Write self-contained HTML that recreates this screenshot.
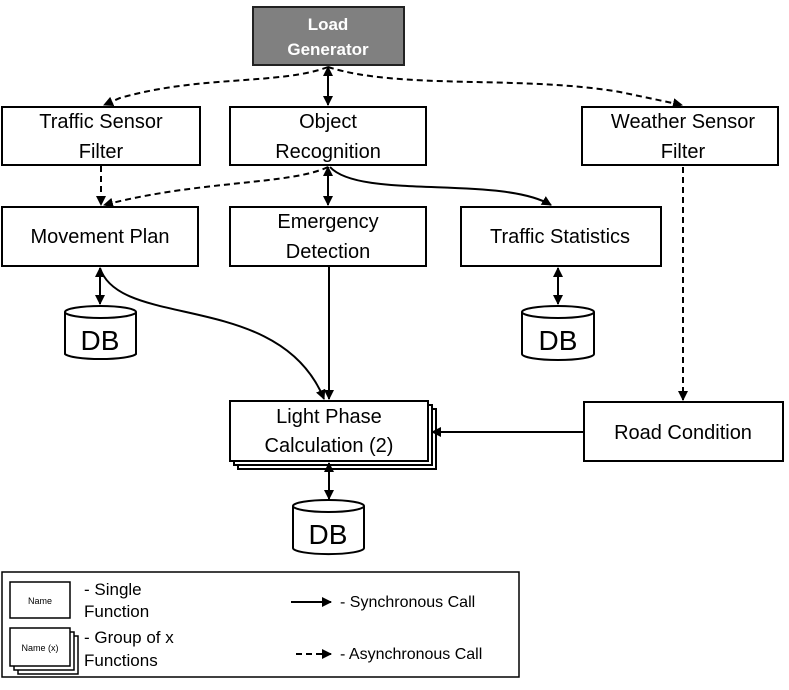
<!DOCTYPE html>
<html><head><meta charset="utf-8"><style>
html,body{margin:0;padding:0;background:#fff;}
svg{display:block;}
text{font-family:"Liberation Sans",sans-serif;fill:#000;}
</style></head><body>
<svg width="789" height="690" viewBox="0 0 789 690" xmlns="http://www.w3.org/2000/svg">
<defs>
<marker id="a" viewBox="0 0 10 10" refX="9" refY="5" markerWidth="5" markerHeight="5" orient="auto-start-reverse"><path d="M0,0L10,5L0,10z" fill="#000"/></marker>
</defs>
<g fill="#fff" stroke="#000" stroke-width="2">
<rect x="253" y="7" width="151" height="58" fill="#808080" stroke="#222"/>
<rect x="2" y="107" width="198" height="58"/>
<rect x="230" y="107" width="196" height="58"/>
<rect x="582" y="107" width="196" height="58"/>
<rect x="2" y="207" width="196" height="59"/>
<rect x="230" y="207" width="196" height="59"/>
<rect x="461" y="207" width="200" height="59"/>
<rect x="238" y="409" width="198" height="60"/>
<rect x="234" y="405" width="198" height="60"/>
<rect x="230" y="401" width="198" height="60"/>
<rect x="584" y="402" width="199" height="59"/>
</g>
<g fill="#fff" stroke="#000" stroke-width="2">
<path d="M65,312 v42 a36,6 0 0 0 71,0 v-42"/><ellipse cx="100.5" cy="312" rx="35.5" ry="6"/>
<path d="M522,312 v42 a36,6 0 0 0 72,0 v-42"/><ellipse cx="558" cy="312" rx="36" ry="6"/>
<path d="M293,506 v42 a35,6 0 0 0 71,0 v-42"/><ellipse cx="328.5" cy="506" rx="35.5" ry="6"/>
</g>
<g font-size="20" text-anchor="middle">
<text x="328" y="30" font-size="17" font-weight="bold" style="fill:#fff">Load</text>
<text x="328" y="55" font-size="17" font-weight="bold" style="fill:#fff">Generator</text>
<text x="101" y="128">Traffic Sensor</text><text x="101" y="158">Filter</text>
<text x="328" y="128">Object</text><text x="328" y="158">Recognition</text>
<text x="683" y="128">Weather Sensor</text><text x="683" y="158">Filter</text>
<text x="100" y="243">Movement Plan</text>
<text x="328" y="228">Emergency</text><text x="328" y="258">Detection</text>
<text x="560" y="243">Traffic Statistics</text>
<text x="329" y="423">Light Phase</text><text x="329" y="452">Calculation (2)</text>
<text x="683" y="439">Road Condition</text>
<text x="100" y="350" font-size="28">DB</text>
<text x="558" y="350" font-size="28">DB</text>
<text x="328" y="544" font-size="28">DB</text>
</g>
<g fill="none" stroke="#000" stroke-width="2">
<path d="M328,67 V105" marker-start="url(#a)" marker-end="url(#a)"/>
<path d="M328,67 C280,85 200,75 120,98 L104,105" stroke-dasharray="6,4" marker-end="url(#a)"/>
<path d="M328,67 C400,90 520,75 620,92 L682,105" stroke-dasharray="6,4" marker-end="url(#a)"/>
<path d="M101,166 V205" stroke-dasharray="6,4" marker-end="url(#a)"/>
<path d="M328,167 V205" marker-start="url(#a)" marker-end="url(#a)"/>
<path d="M328,167 C290,185 200,180 104,205" stroke-dasharray="6,4" marker-end="url(#a)"/>
<path d="M330,167 C360,200 500,175 551,205" marker-end="url(#a)"/>
<path d="M100,268 V304" marker-start="url(#a)" marker-end="url(#a)"/>
<path d="M100,268 C120,330 280,290 324,399" marker-end="url(#a)"/>
<path d="M329,267 V399" marker-end="url(#a)"/>
<path d="M558,268 V304" marker-start="url(#a)" marker-end="url(#a)"/>
<path d="M683,167 V400" stroke-dasharray="6,4" marker-end="url(#a)"/>
<path d="M584,432 H432" marker-end="url(#a)"/>
<path d="M329,463 V499" marker-start="url(#a)" marker-end="url(#a)"/>
</g>
<rect x="2" y="572" width="517" height="105" fill="#fff" stroke="#000" stroke-width="1.5"/>
<g fill="#fff" stroke="#000" stroke-width="1.5">
<rect x="10" y="582" width="60" height="36"/>
<rect x="18" y="636" width="60" height="38"/>
<rect x="14" y="632" width="60" height="38"/>
<rect x="10" y="628" width="60" height="38"/>
</g>
<g font-size="17">
<text x="40" y="604" font-size="9" text-anchor="middle">Name</text>
<text x="40" y="651" font-size="9" text-anchor="middle">Name (x)</text>
<text x="84" y="595">- Single</text><text x="84" y="617">Function</text>
<text x="84" y="643">- Group of x</text><text x="84" y="666">Functions</text>
<text x="340" y="607" font-size="16">- Synchronous Call</text>
<text x="340" y="659" font-size="16">- Asynchronous Call</text>
</g>
<g fill="none" stroke="#000" stroke-width="2">
<path d="M291,602 H331" marker-end="url(#a)"/>
<path d="M296,654 H331" stroke-dasharray="6,4" marker-end="url(#a)"/>
</g>
</svg>
</body></html>
